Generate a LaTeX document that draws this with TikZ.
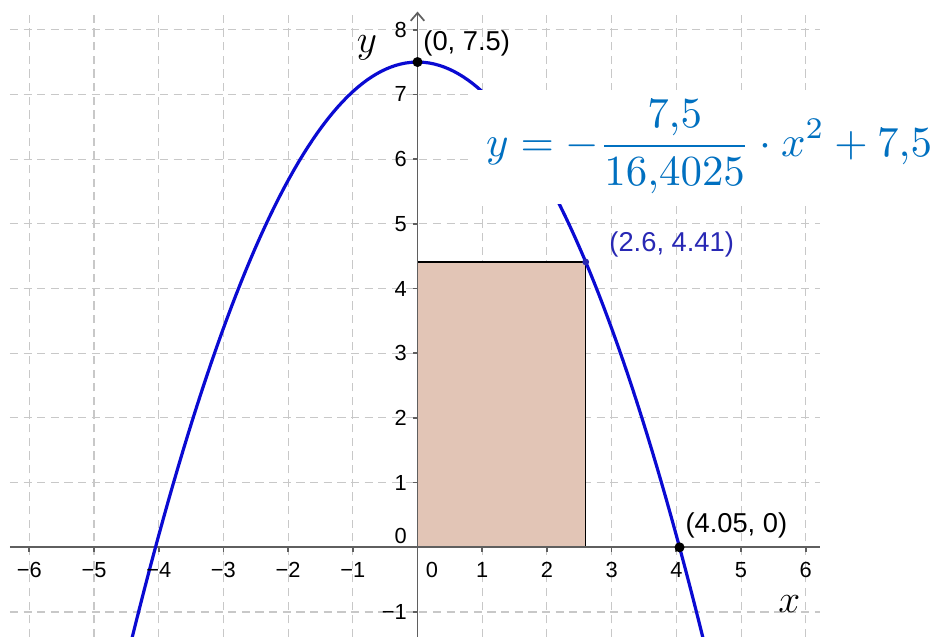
\documentclass[tikz,border=0pt]{standalone}
\usepackage[no-math]{fontspec}
\setmainfont{Liberation Sans}
\usepackage{graphicx}
\usetikzlibrary{arrows.meta}
\definecolor{gridgray}{RGB}{200,200,200}
\definecolor{axisgray}{RGB}{95,95,95}
\definecolor{curveblue}{RGB}{10,10,210}
\definecolor{ptblue}{RGB}{40,40,180}
\definecolor{eqblue}{RGB}{0,112,192}
\definecolor{rectfill}{RGB}{226,197,182}
\tikzset{
  gridline/.style={gridgray, line width=0.45pt, dash pattern=on 3.6pt off 2.4pt},
  axisline/.style={axisgray, line width=0.75pt},
  curveline/.style={curveblue, line width=1.4pt},
  ticklab/.style={inner sep=0pt, font=\fontsize{9.6}{11}\selectfont},
  ptlab/.style={inner sep=0pt, anchor=west, font=\fontsize{12}{14}\selectfont},
  bdot/.style={circle, fill=black, inner sep=0pt, minimum size=0.155cm},
  sdot/.style={circle, fill=ptblue, inner sep=0pt, minimum size=0.105cm},
  eqbox/.style={fill=white, inner sep=0pt, minimum width=7.45cm, minimum height=1.762cm, text=eqblue},
  varlab/.style={inner sep=0pt, font=\fontsize{18}{20}\selectfont}
}
\begin{document}
\begin{tikzpicture}
\useasboundingbox (-6.453,-1.386) rectangle (8.230,8.459);
\fill[white] (-6.453,-1.386) rectangle (8.230,8.459);
\begin{scope}
\clip (-6.453,-1.386) rectangle (8.230,8.459);
% grid
\foreach \x in {-6,...,6} \draw[gridline] (\x,-1.386) -- (\x,8.28);
\foreach \y in {-1,...,8} \draw[gridline] (-6.30,\y) -- (6.22,\y);
% rectangle
\fill[rectfill] (0,0) rectangle (2.6,4.41);
\draw[black, line width=0.65pt] (0,0) rectangle (2.6,4.41);
% axes
\draw[axisline] (-6.30,0) -- (6.22,0);
\draw[axisline, -{Straight Barb[length=3.5pt,width=6pt]}] (0,-1.386) -- (0,8.28);
\foreach \x in {-6,...,-1,1,2,...,6} \draw[axisline] (\x,0) -- (\x,-0.07);
\foreach \y in {-1,1,2,...,8} \draw[axisline] (0,\y) -- (-0.07,\y);
% curve
\draw[curveline] plot[domain=-4.45:4.45, samples=120] (\x,{7.5-7.5/16.4025*\x*\x});
\end{scope}
% tick labels
\foreach \x/\t in {-6/−6,-5/−5,-4/−4,-3/−3,-2/−2,-1/−1,1/1,2/2,3/3,4/4,5/5,6/6}
  \node[ticklab] (xl\x) at (\x,-0.351) {\t};
\node[ticklab] (xl0) at (0.224,-0.351) {0};
\foreach \y/\t in {-1/−1,1/1,2/2,3/3,4/4,5/5,6/6,7/7,8/8}
  \node[ticklab, anchor=east] (yl\y) at (-0.16,\y) {\t};
\node[ticklab, anchor=east] (yl0) at (-0.16,0.175) {0};
% axis names
\node[varlab] (xname) at (5.745,-0.876) {$x$};
\node[varlab] (yname) at (-0.781,7.717) {$y$};
% equation
\node[eqbox] (eq) at (4.506,6.187) {\resizebox{6.89cm}{!}{$\displaystyle y=-\frac{7{,}5}{16{,}4025}\cdot x^2+7{,}5$}};
% points
\node[bdot] (P0) at (0,7.5) {};
\node[sdot] (P1) at (2.6,4.41) {};
\node[bdot] (P2) at (4.05,0) {};
\node[ptlab] (L0) at (0.085,7.794) {(0, 7.5)};
\node[ptlab, text=ptblue] (L1) at (2.96,4.688) {(2.6, 4.41)};
\node[ptlab] (L2) at (4.135,0.345) {(4.05, 0)};
\end{tikzpicture}
\end{document}
